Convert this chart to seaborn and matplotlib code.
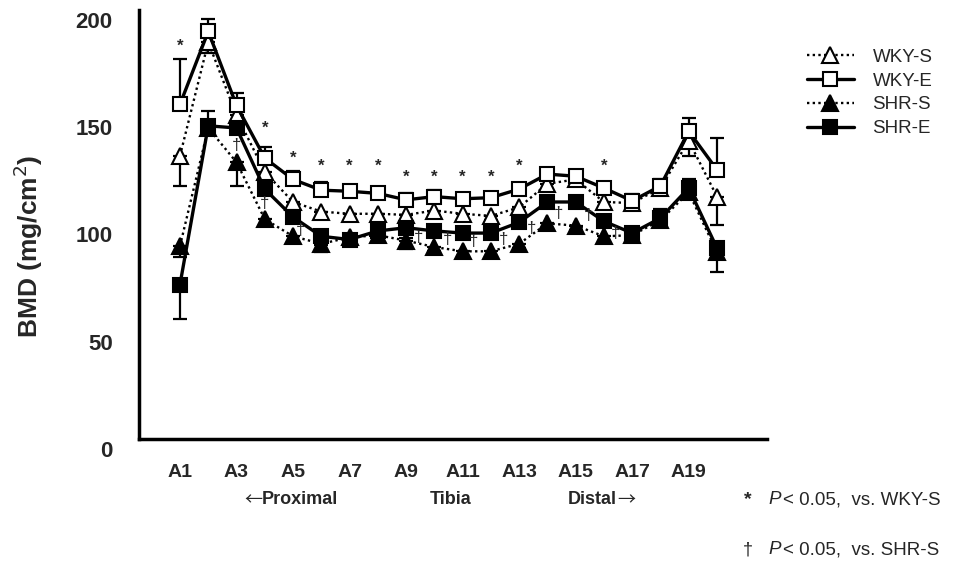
import numpy as np
import pandas as pd
import matplotlib
matplotlib.use("Agg")
import matplotlib.pyplot as plt
import matplotlib.transforms as mtransforms
import seaborn as sns
from matplotlib.lines import Line2D

sns.set_style("white")
plt.rcParams['font.family'] = ['Liberation Sans', 'DejaVu Sans']

sites = [f"A{i}" for i in range(1, 21)]
pos = list(range(1, 21))

wky_s = [132, 185, 151, 124.5, 110.5, 106, 105, 105, 104.5, 106.5, 105, 104, 108, 119, 121, 110.5, 110, 117, 139, 113]
wky_e = [156, 190, 155.5, 131, 121, 116, 115.5, 114.5, 111.5, 113, 112, 112.5, 116.5, 123.5, 122.5, 117, 111, 118, 143.5, 125.5]
shr_s = [90, 145, 129, 102.5, 94.5, 91, 94, 95, 92.5, 89.5, 87.5, 87.5, 91, 100.5, 99.5, 94.5, 95, 102, 115, 87]
shr_e = [72, 146, 145, 116.5, 103.5, 94.5, 93, 97, 98.5, 97, 96, 96, 101, 110.5, 110.5, 101.5, 96, 103, 117, 89]

wky_s_lo = [14, 5, 3, 3, 3, 3, 3, 3, 3, 2, 3, 2, 2, 3, 2, 3, 2, 2, 7, 13]
wky_s_hi = [0] * 20
wky_e_lo = [0, 0, 0, 0, 0, 0, 0, 0, 0, 0, 0, 0, 0, 0, 2, 0, 4, 3, 0, 0]
wky_e_hi = [21, 6, 6, 5, 4, 4, 3, 3, 3, 3, 2, 2, 1, 2, 3, 3, 3, 3, 6, 15]
shr_s_lo = [5, 0, 11, 3, 3, 4, 3, 3, 4, 2, 2, 3, 2, 2, 2, 2, 3, 2, 3, 9]
shr_s_hi = [0] * 20
shr_e_lo = [16, 0, 0, 0, 0, 4, 3, 5, 5, 2, 2, 2, 2, 0, 0, 2, 4, 0, 0, 2]
shr_e_hi = [0, 7, 0, 0, 0, 0, 0, 0, 0, 0, 0, 0, 0, 0, 0, 0, 0, 4, 4, 0]

star_sites = [1, 4, 5, 6, 7, 8, 9, 10, 11, 12, 13, 16]
star_y = [183, 145, 131, 127, 127, 127, 122, 122, 122, 122, 127, 127]
dagger_sites = [3, 4, 5, 9, 10, 11, 12, 13, 14, 15, 16]
dagger_y = [137, 110, 97, 94, 93, 92, 93, 98, 105, 104, 96]
dagger_dx = [0, 0, 0.25, 0.45, 0.45, 0.4, 0.45, 0.45, 0.4, 0.45, 0.4]

DOT = (0, (1, 1.4))
series = [
    ("SHR-S", shr_s, shr_s_lo, shr_s_hi, '^', 'black', DOT, 1.7),
    ("WKY-S", wky_s, wky_s_lo, wky_s_hi, '^', 'white', DOT, 1.7),
    ("SHR-E", shr_e, shr_e_lo, shr_e_hi, 's', 'black', '-', 2.4),
    ("WKY-E", wky_e, wky_e_lo, wky_e_hi, 's', 'white', '-', 2.4),
]

fig = plt.figure(figsize=(9.62, 5.79), dpi=100)
ax = fig.add_axes([139 / 962, 1 - 439 / 579, (767 - 139) / 962, (439 - 10) / 579])

for name, vals, lo, hi, mk, fc, ls, lw in series:
    df = pd.DataFrame({"pos": pos, "BMD": vals})
    ax.errorbar(pos, vals, yerr=[lo, hi], fmt='none', ecolor='black',
                elinewidth=1.6, capsize=5, capthick=1.6, zorder=2)
    sns.lineplot(data=df, x="pos", y="BMD", ax=ax, color='black',
                 linestyle=ls, linewidth=lw, marker=mk, markersize=11 if mk == '^' else 10,
                 markerfacecolor=fc, markeredgecolor='black', markeredgewidth=1.5,
                 zorder=3)

for s, y in zip(star_sites, star_y):
    ax.text(s, y, "*", ha='center', va='center', fontsize=12, fontweight='bold')
for s, y, dx in zip(dagger_sites, dagger_y, dagger_dx):
    ax.text(s + dx, y, "†", ha='center', va='center', fontsize=12)

ax.set_xlim(-0.45, 21.77)
ax.set_ylim(0, 200)
ax.set_xticks(pos)
ax.set_xticklabels([lab if i % 2 == 0 else "" for i, lab in enumerate(sites)],
                   fontsize=14, fontweight='bold')
ax.set_yticks([0, 50, 100, 150, 200])
ax.set_yticklabels(["0", "50", "100", "150", "200"], fontsize=16, fontweight='bold')
ax.tick_params(axis='y', direction='in', length=7, width=2, pad=19)
ax.tick_params(axis='x', direction='in', length=5, width=1.5, pad=18)
offset = mtransforms.ScaledTranslation(0, -10 / 100, fig.dpi_scale_trans)
for lab in ax.get_yticklabels():
    lab.set_transform(lab.get_transform() + offset)
ax.set_xlabel("")
ax.set_ylabel("BMD (mg/cm$^2$)", fontsize=19, fontweight='bold')
ax.yaxis.set_label_coords(-0.15, 0.45)
for sp in ['top', 'right']:
    ax.spines[sp].set_visible(False)
for sp in ['left', 'bottom']:
    ax.spines[sp].set_linewidth(2.5)
    ax.spines[sp].set_color('black')

handles = [
    Line2D([], [], color='black', linestyle=DOT, linewidth=1.7, marker='^', markersize=11,
           markerfacecolor='white', markeredgecolor='black', markeredgewidth=1.5),
    Line2D([], [], color='black', linestyle='-', linewidth=2.4, marker='s', markersize=10,
           markerfacecolor='white', markeredgecolor='black', markeredgewidth=1.5),
    Line2D([], [], color='black', linestyle=DOT, linewidth=1.7, marker='^', markersize=11,
           markerfacecolor='black', markeredgecolor='black', markeredgewidth=1.5),
    Line2D([], [], color='black', linestyle='-', linewidth=2.4, marker='s', markersize=10,
           markerfacecolor='black', markeredgecolor='black', markeredgewidth=1.5),
]
labels = ["WKY-S", "WKY-E", "SHR-S", "SHR-E"]
fig.legend(handles, labels, loc='upper left', bbox_to_anchor=(790 / 962, 1 - 32 / 579),
           frameon=False, fontsize=13.5, handlelength=2.5, labelspacing=0.35, handletextpad=1.0)

fy1 = 1 - 500 / 579
fy2 = 1 - 550 / 579
arrow_font = ['Noto Sans CJK JP', 'DejaVu Sans']
fig.text(262 / 962, fy1, "←", ha='right', va='center', fontsize=13, family=arrow_font)
fig.text(262 / 962, fy1, "Proximal", ha='left', va='center', fontsize=13, fontweight='bold')
fig.text(451 / 962, fy1, "Tibia", ha='center', va='center', fontsize=13, fontweight='bold')
fig.text(617 / 962, fy1, "Distal", ha='right', va='center', fontsize=13, fontweight='bold')
fig.text(617 / 962, fy1, "→", ha='left', va='center', fontsize=13, family=arrow_font)

fig.text(748 / 962, fy1, "*", ha='center', va='center', fontsize=14, fontweight='bold')
fig.text(768 / 962, fy1, "P", ha='left', va='center', fontsize=13.5, style='italic')
fig.text(783 / 962, fy1, "< 0.05,  vs. WKY-S", ha='left', va='center', fontsize=13.5)
fig.text(748 / 962, fy2, "†", ha='center', va='center', fontsize=13)
fig.text(768 / 962, fy2, "P", ha='left', va='center', fontsize=13.5, style='italic')
fig.text(783 / 962, fy2, "< 0.05,  vs. SHR-S", ha='left', va='center', fontsize=13.5)

fig.savefig("out.png", dpi=100, facecolor='white')
